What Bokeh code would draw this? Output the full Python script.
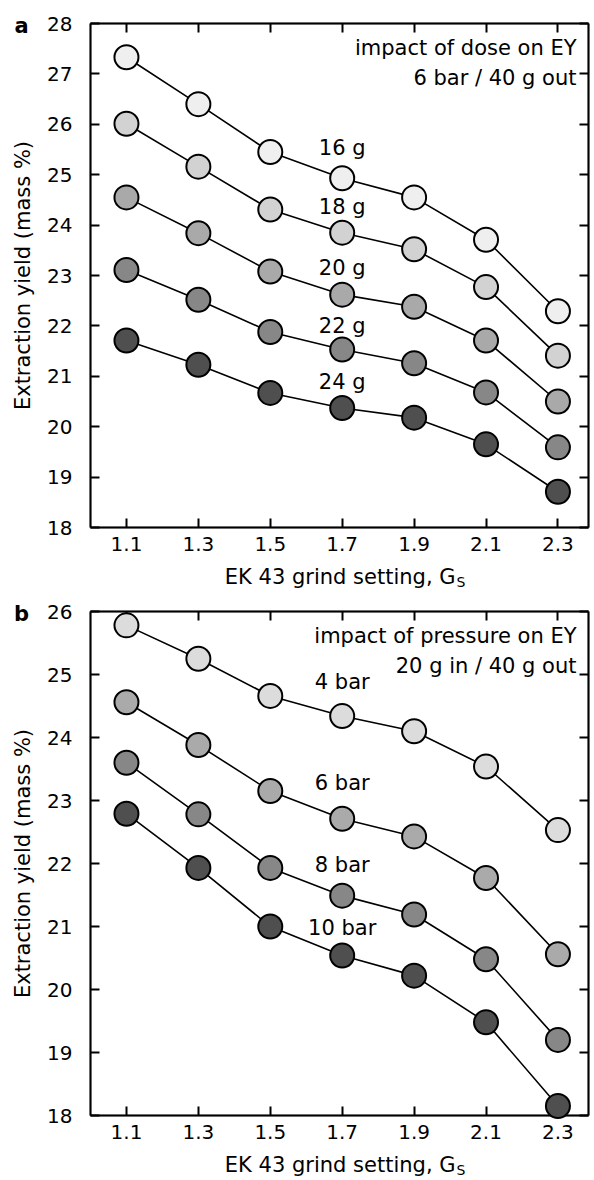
import math
from bokeh.plotting import figure
from bokeh.models import LinearAxis, Label, FixedTicker, Range1d, BoxAnnotation
from bokeh.layouts import column
from bokeh.embed import file_html
from bokeh.resources import INLINE

# ---------------- data ----------------
grind = [1.1, 1.3, 1.5, 1.7, 1.9, 2.1, 2.3]
x_ticks = [1.1, 1.3, 1.5, 1.7, 1.9, 2.1, 2.3]

# panel a: impact of dose (6 bar / 40 g out)
dose_labels = ["16 g", "18 g", "20 g", "22 g", "24 g"]
ey_16g = [27.33, 26.40, 25.45, 24.93, 24.55, 23.71, 22.29]
ey_18g = [26.01, 25.16, 24.31, 23.85, 23.52, 22.77, 21.41]
ey_20g = [24.55, 23.84, 23.08, 22.62, 22.38, 21.71, 20.50]
ey_22g = [23.11, 22.52, 21.88, 21.53, 21.26, 20.68, 19.59]
ey_24g = [21.71, 21.23, 20.67, 20.37, 20.18, 19.65, 18.71]
dose_label_y = [25.52, 24.35, 23.14, 22.00, 20.88]
dose_colors = ["#efefef", "#d2d2d2", "#a9a9a9", "#878787", "#4f4f4f"]

# panel b: impact of pressure (20 g in / 40 g out)
pressure_labels = ["4 bar", "6 bar", "8 bar", "10 bar"]
ey_4bar = [25.78, 25.25, 24.66, 24.34, 24.10, 23.54, 22.53]
ey_6bar = [24.56, 23.88, 23.15, 22.71, 22.43, 21.77, 20.56]
ey_8bar = [23.60, 22.78, 21.93, 21.49, 21.19, 20.48, 19.20]
ey_10bar = [22.79, 21.93, 21.00, 20.54, 20.22, 19.48, 18.15]
pressure_label_y = [24.88, 23.27, 21.97, 20.98]
pressure_colors = ["#dcdcdc", "#aaaaaa", "#878787", "#4f4f4f"]

FONT = "DejaVu Sans"
FS = "21px"
TICK_FS = "20px"
X0, X1 = 1.0, 2.385          # plot box x extent (data)
W = 594
BOX_L, BOX_R = 90, 588        # plot box x extent (pixels)


def style_axis(ax, labels=True):
    ax.axis_line_width = 2
    ax.axis_line_color = "black"
    ax.major_tick_line_width = 2
    ax.major_tick_line_color = "black"
    ax.major_tick_in = 9
    ax.major_tick_out = 0
    ax.minor_tick_line_color = None
    ax.major_label_text_font = FONT
    ax.major_label_text_font_size = TICK_FS
    ax.major_label_text_color = "black" if labels else None


def make_panel(series, colors, labels, label_y, y0, y1, letter, note1, note2,
               height, box_top, box_bottom):
    # map the plot box to the requested pixel rectangle
    xppu = (BOX_R - BOX_L) / (X1 - X0)
    yppu = (box_bottom - box_top) / (y1 - y0)
    xr = Range1d(X0 - BOX_L / xppu, X1 + (W - BOX_R) / xppu)
    yr = Range1d(y0 - (height - box_bottom) / yppu, y1 + box_top / yppu)

    p = figure(width=W, height=height, output_backend="svg", toolbar_location=None,
               x_range=xr, y_range=yr, x_axis_type=None, y_axis_type=None,
               min_border=0)
    p.grid.visible = False
    p.outline_line_color = None
    p.background_fill_color = "white"
    p.border_fill_color = "white"

    yt = list(range(int(y0), int(y1) + 1))

    left = LinearAxis(fixed_location=X0, bounds=(y0, y1), ticker=FixedTicker(ticks=yt))
    right = LinearAxis(fixed_location=X1, bounds=(y0, y1), ticker=FixedTicker(ticks=yt))
    bottom = LinearAxis(fixed_location=y0, bounds=(X0, X1), ticker=FixedTicker(ticks=x_ticks))
    top = LinearAxis(fixed_location=y1, bounds=(X0, X1), ticker=FixedTicker(ticks=x_ticks))
    style_axis(left)
    style_axis(bottom)
    style_axis(right, labels=False)
    style_axis(top, labels=False)
    left.major_label_standoff = 18
    bottom.major_label_standoff = 9
    p.add_layout(left, "left")
    p.add_layout(right, "right")
    p.add_layout(bottom, "below")
    p.add_layout(top, "above")

    p.add_layout(BoxAnnotation(left=X0, right=X1, bottom=y0, top=y1,
                               fill_color=None, line_color="black", line_width=2))

    for ys, c in zip(series, colors):
        p.line(grind, ys, line_color="black", line_width=1.6, level="overlay")
    for ys, c in zip(series, colors):
        p.scatter(grind, ys, size=24, fill_color=c, line_color="black", line_width=2,
                  level="overlay")

    def lab(**kw):
        d = dict(text_font=FONT, text_font_size=FS, text_color="black",
                 text_baseline="middle")
        d.update(kw)
        p.add_layout(Label(**d))

    for t, ly in zip(labels, label_y):
        lab(x=1.7, y=ly, text=t, text_align="center")

    lab(x=X1, y=y1, x_offset=-12, y_offset=-24, text=note1, text_align="right")
    lab(x=X1, y=y1, x_offset=-12, y_offset=-54, text=note2, text_align="right")

    # panel letter
    lab(x=X0, y=y1, x_offset=-69, y_offset=-2, text=letter, text_align="center",
        text_font_style="bold")

    # y-axis title
    lab(x=X0, y=(y0 + y1) / 2, x_offset=-68, text="Extraction yield (mass %)",
        text_align="center", angle=math.pi / 2)

    # x-axis title with subscript S
    xg = X0 + (455 - BOX_L) / xppu
    lab(x=xg, y=y0, y_offset=-49, text="EK 43 grind setting, G", text_align="right")
    lab(x=xg, y=y0, x_offset=1, y_offset=-54, text="S", text_align="left",
        text_font_size="14px")
    return p


pa = make_panel([ey_16g, ey_18g, ey_20g, ey_22g, ey_24g], dose_colors, dose_labels,
                dose_label_y, 18, 28, "a", "impact of dose on EY", "6 bar / 40 g out",
                595, 23, 527)
pb = make_panel([ey_4bar, ey_6bar, ey_8bar, ey_10bar], pressure_colors, pressure_labels,
                pressure_label_y, 18, 26, "b", "impact of pressure on EY", "20 g in / 40 g out",
                585, 16, 520)

layout = column(pa, pb, spacing=0)
open("out.html", "w").write(file_html(layout, INLINE))
